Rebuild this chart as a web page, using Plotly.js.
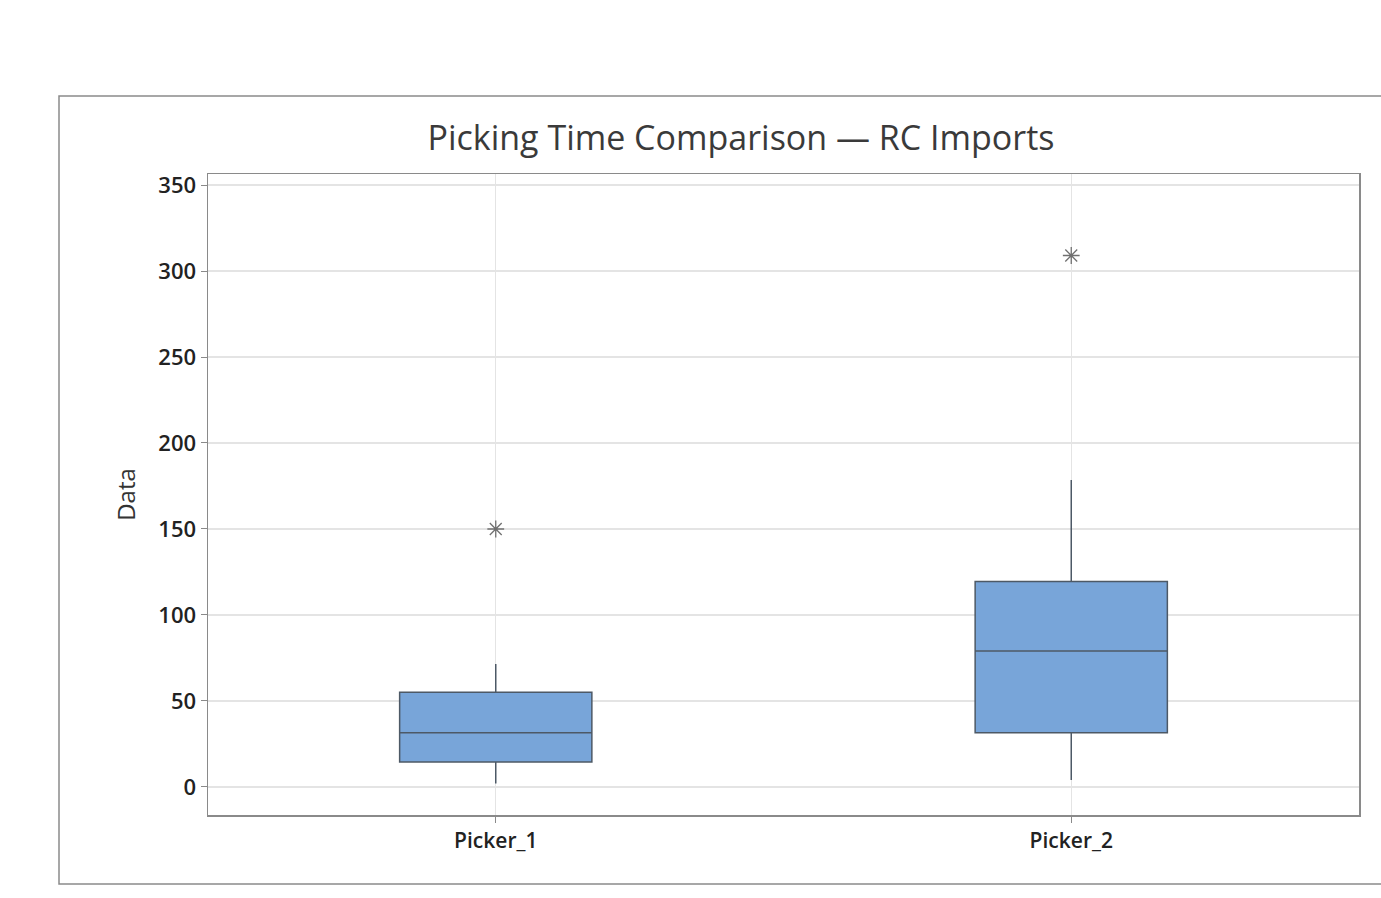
<!DOCTYPE html>
<html>
<head>
<meta charset="utf-8">
<script src="https://cdn.plot.ly/plotly-3.0.1.min.js"></script>
<style>
  html, body { margin: 0; padding: 0; background: #fff; }
  #chart { width: 1381px; height: 898px; }
</style>
</head>
<body>
<div id="chart"></div>
<script>
// ---- Data ----
const categories = ["Picker_1", "Picker_2"];
const q1Values = [14.5, 31.5];
const medianValues = [31.5, 79];
const q3Values = [55, 119.5];
const lowerWhisker = [2, 4];
const upperWhisker = [71.5, 178.5];
const outlierCategories = ["Picker_1", "Picker_2"];
const outlierValues = [150, 309];
const yTicks = [0, 50, 100, 150, 200, 250, 300, 350];

const W = 1381, H = 898;
const M = { l: 208, r: 22, t: 174, b: 83 };
const pw = W - M.l - M.r, ph = H - M.t - M.b;
function px2x(px) { return (px - M.l) / pw; }
function py2y(py) { return (H - M.b - py) / ph; }

const traces = [
  {
    type: "box",
    x: categories,
    q1: q1Values,
    median: medianValues,
    q3: q3Values,
    lowerfence: lowerWhisker,
    upperfence: upperWhisker,
    width: 0.334,
    fillcolor: "#78a5d9",
    line: { color: "#4d5966", width: 1.5 },
    whiskerwidth: 0,
    boxpoints: false,
    hoverinfo: "skip",
    showlegend: false
  },
  {
    type: "scatter",
    mode: "markers",
    x: outlierCategories,
    y: outlierValues,
    marker: { symbol: "asterisk-open", size: 14, color: "#707070", line: { color: "#707070", width: 1.3 } },
    hoverinfo: "skip",
    showlegend: false
  }
];

const fam = "Open Sans, Noto Sans, sans-serif";
const yFont = { family: fam, size: 22, color: "#222", weight: 600 };
const xFont = { family: fam, size: 21, color: "#222", weight: 600 };

const layout = {
  width: W, height: H,
  margin: M,
  paper_bgcolor: "#ffffff",
  plot_bgcolor: "#ffffff",
  font: { family: fam, color: "#333" },
  title: {
    text: "Picking Time Comparison — RC Imports",
    font: { family: fam, size: 34, color: "#3a3a3a" },
    xref: "container", x: 741 / W, xanchor: "center",
    yref: "container", y: 1 - 138 / H, yanchor: "middle"
  },
  xaxis: {
    type: "category",
    range: [-0.5, 1.5],
    showgrid: true, gridcolor: "#e4e4e4", gridwidth: 1.2,
    showline: true, linecolor: "#8a8a8a", linewidth: 1.5, mirror: true,
    ticks: "outside", ticklen: 6, tickcolor: "#8a8a8a",
    tickfont: xFont,
    zeroline: false
  },
  yaxis: {
    range: [-16.3, 356.4],
    tickvals: yTicks,
    ticktext: yTicks.map(String),
    showgrid: true, gridcolor: "#e4e4e4", gridwidth: 1.2,
    showline: true, linecolor: "#8a8a8a", linewidth: 1.5, mirror: true,
    ticks: "outside", ticklen: 6, tickcolor: "#8a8a8a",
    tickfont: yFont,
    zeroline: false,
    title: { text: "Data", font: { family: fam, size: 24, color: "#333" }, standoff: 16 }
  },
  shapes: [
    {
      type: "rect", xref: "paper", yref: "paper",
      x0: px2x(59), x1: px2x(1395), y0: py2y(884), y1: py2y(96),
      line: { color: "#8a8a8a", width: 1.5 }, fillcolor: "rgba(0,0,0,0)", layer: "below"
    }
  ]
};

Plotly.newPlot("chart", traces, layout, { displayModeBar: false, staticPlot: true });
</script>
</body>
</html>
